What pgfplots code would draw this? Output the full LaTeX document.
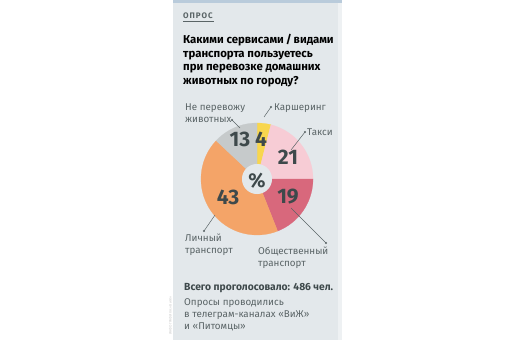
\documentclass[border=0pt]{standalone}
\usepackage{fontspec}
\setmainfont{Fira Sans}
\usepackage{pgfplots}
\pgfplotsset{compat=1.18}

\definecolor{panel}{HTML}{E3E8EB}
\definecolor{topbar}{HTML}{B9CBDB}
\definecolor{ink}{HTML}{3E494B}
\definecolor{txt}{HTML}{5A6466}
\definecolor{pcar}{HTML}{F8D64E}
\definecolor{ptaxi}{HTML}{F7CCD5}
\definecolor{ppub}{HTML}{D8687C}
\definecolor{pown}{HTML}{F4A468}
\definecolor{pnone}{HTML}{C6CACB}

\newcommand\fs[1]{\fontsize{#1bp}{#1bp}\selectfont}

\begin{document}
\begin{tikzpicture}[x=1bp,y=1bp]
% canvas and card
\fill[white] (0,0) rectangle (512,340);
\useasboundingbox (0,0) rectangle (512,340);
\fill[panel] (173,0) rectangle (342,340);
\fill[topbar] (173,337) rectangle (342,340);
\fill[white!40!panel] (338,0) rectangle (342,337);
\coordinate (piecenter) at (257,161);

% header
\node[anchor=base west, inner sep=0, text=txt] at (183,322)
  {\fs{8}\bfseries\addfontfeatures{LetterSpace=12}ОПРОС};
\draw[txt, line width=0.6bp] (183,318.5) -- (214,318.5);

\begin{scope}[every node/.style={anchor=base west, inner sep=0, text=black}]
  \node at (183,296.5) {\fs{11.4}\bfseries Какими сервисами\,/\,видами};
  \node at (183,283)   {\fs{11.4}\bfseries транспорта пользуетесь};
  \node at (183,269.5) {\fs{11.4}\bfseries при перевозке домашних};
  \node at (183,256)   {\fs{11.4}\bfseries животных по городу?};
\end{scope}

% pie: share of answers, clockwise from the top
\begin{axis}[at={(piecenter)}, anchor=center, scale only axis,
  width=124bp, height=124bp, xmin=-62, xmax=62, ymin=-62, ymax=62,
  hide axis, clip=false]
  \xdef\cum{0}
  \foreach \v/\c in {4/pcar,21/ptaxi,19/ppub,43/pown,13/pnone}{
    \pgfmathsetmacro\a{90-3.6*\cum}
    \pgfmathsetmacro\b{90-3.6*(\cum+\v)}
    \edef\slice{\noexpand\addplot[fill=\c, draw=\c, line width=0.2bp,
      domain=\b:\a, samples=60] ({56*cos(x)},{56*sin(x)})
      -- (axis cs:0,0) -- cycle;}
    \slice
    \pgfmathsetmacro\n{\cum+\v}
    \xdef\cum{\n}
  }
  \addplot[fill=panel, draw=none, domain=0:360, samples=90]
    ({15*cos(x)},{15*sin(x)}) -- cycle;
\end{axis}

% values on the slices
\begin{scope}[every node/.style={inner sep=0, text=ink}]
  \node at (261,201) {\fs{21}\bfseries 4};
  \node at (240,201) {\fs{21}\bfseries 13};
  \node at (288,183) {\fs{21}\bfseries 21};
  \node at (288,143) {\fs{21}\bfseries 19};
  \node at (228,143) {\fs{21}\bfseries 43};
  \node at (257,159) {\fs{20}\bfseries\%};
\end{scope}

% category labels
\begin{scope}[every node/.style={anchor=base west, inner sep=0, text=txt}]
  \node at (185,230) {\fs{9.8}Не перевожу};
  \node at (185,218) {\fs{9.8}животных};
  \node at (274,230) {\fs{9.8}Каршеринг};
  \node at (307,205) {\fs{9.8}Такси};
  \node at (185,99)  {\fs{9.8}Личный};
  \node at (185,87)  {\fs{9.8}транспорт};
  \node at (258,86)  {\fs{9.8}Общественный};
  \node at (258,74)  {\fs{9.8}транспорт};
\end{scope}

% leader lines
\begin{scope}[txt, line width=0.5bp]
  \draw (232,220) -- (240,212); \fill (232,220) circle (1.1);
  \draw (271,233) -- (264,223); \fill (271,233) circle (1.1);
  \draw (305,208) -- (291,190); \fill (305,208) circle (1.1);
  \draw (204,109) -- (215,125); \fill (204,109) circle (1.1);
  \draw (326,97)  -- (291,132); \fill (326,97)  circle (1.1);
\end{scope}

% footer
\node[anchor=base west, inner sep=0, text=ink] at (184,49.5)
  {\fs{10.3}\bfseries Всего проголосовало: 486 чел.};
\begin{scope}[every node/.style={anchor=base west, inner sep=0, text=txt}]
  \node at (184,34.5) {\fs{9.8}Опросы проводились};
  \node at (184,22.5) {\fs{9.8}в телеграм-каналах «ВиЖ»};
  \node at (184,10.5) {\fs{9.8}и «Питомцы»};
\end{scope}

% credit
\node[rotate=90, anchor=west, inner sep=0, text=black!20] at (170.5,5)
  {\fs{3.5}ИНФОГРАФИКА: «ВиЖ»};
\end{tikzpicture}
\end{document}
